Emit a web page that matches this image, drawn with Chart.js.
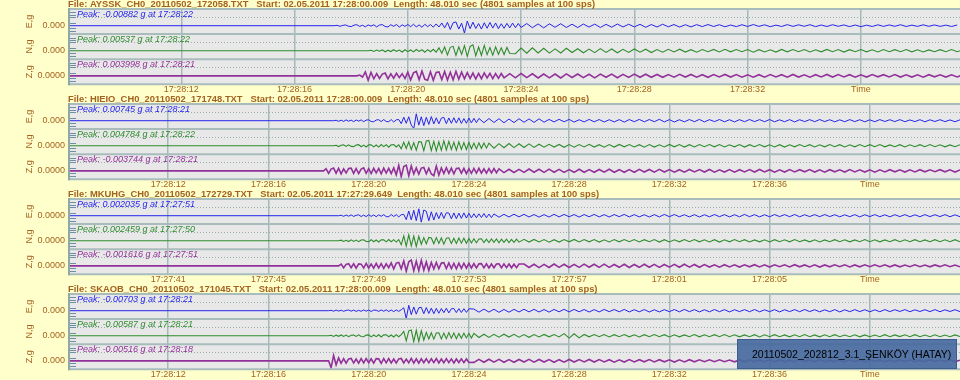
<!DOCTYPE html>
<html>
<head>
<meta charset="utf-8">
<script src="https://cdn.jsdelivr.net/npm/chart.js@4.4.1/dist/chart.umd.min.js"></script>
<style>
  body { margin: 0; background: #ffffcc; width: 960px; height: 380px; overflow: hidden; position: relative; }
  canvas { position: absolute; left: 0; }
  #tag {
    position: absolute; left: 737px; top: 339px; width: 220px; height: 30px;
    background: rgba(70, 106, 160, 0.92); border: 1px solid #3d5d8c; box-sizing: border-box;
    font: 10.5px 'Liberation Sans', Arial, sans-serif; color: #000;
    line-height: 28px; padding-left: 14px; white-space: nowrap;
  }
</style>
</head>
<body>
<canvas id="p0" width="960" height="95" style="top:0px"></canvas>
<canvas id="p1" width="960" height="95" style="top:95px"></canvas>
<canvas id="p2" width="960" height="95" style="top:190px"></canvas>
<canvas id="p3" width="960" height="95" style="top:285px"></canvas>
<div id="tag">20110502_202812_3.1_ŞENKÖY (HATAY)</div>
<script>
// one panel per recording file, three components each (E, N, Z)
var fileHeaders = [
  "File: AYSSK_CH0_20110502_172058.TXT   Start: 02.05.2011 17:28:00.009  Length: 48.010 sec (4801 samples at 100 sps)",
  "File: HIEIO_CH0_20110502_171748.TXT   Start: 02.05.2011 17:28:00.009  Length: 48.010 sec (4801 samples at 100 sps)",
  "File: MKUHG_CH0_20110502_172729.TXT   Start: 02.05.2011 17:27:29.649  Length: 48.010 sec (4801 samples at 100 sps)",
  "File: SKAOB_CH0_20110502_171045.TXT   Start: 02.05.2011 17:28:00.009  Length: 48.010 sec (4801 samples at 100 sps)"
];
var components = ["E,g", "N,g", "Z,g"];
var zeroLabels = [
  ["0.000", "0.000", "0.0000"],
  ["0.000", "0.0000", "0.0000"],
  ["0.0000", "0.0000", "0.0000"],
  ["0.000", "0.000", "0.000"]
];
var peakLabels = [
  ["Peak: -0.00882 g at 17:28:22", "Peak: 0.00537 g at 17:28:22", "Peak: 0.003998 g at 17:28:21"],
  ["Peak: 0.00745 g at 17:28:21", "Peak: 0.004784 g at 17:28:22", "Peak: -0.003744 g at 17:28:21"],
  ["Peak: 0.002035 g at 17:27:51", "Peak: 0.002459 g at 17:27:50", "Peak: -0.001616 g at 17:27:51"],
  ["Peak: -0.00703 g at 17:28:21", "Peak: -0.00587 g at 17:28:21", "Peak: -0.00516 g at 17:28:18"]
];
// seconds from file start
var viewMin = [8, 8, 8, 8];
var viewMax = [39.5, 43.6, 43.6, 43.6];
var tickSeconds = [
  [12, 16, 20, 24, 28, 32, 36],
  [12, 16, 20, 24, 28, 32, 36, 40],
  [12, 16, 20, 24, 28, 32, 36, 40],
  [12, 16, 20, 24, 28, 32, 36, 40]
];
var tickLabels = [
  ["17:28:12", "17:28:16", "17:28:20", "17:28:24", "17:28:28", "17:28:32", "Time"],
  ["17:28:12", "17:28:16", "17:28:20", "17:28:24", "17:28:28", "17:28:32", "17:28:36", "Time"],
  ["17:27:41", "17:27:45", "17:27:49", "17:27:53", "17:27:57", "17:28:01", "17:28:05", "Time"],
  ["17:28:12", "17:28:16", "17:28:20", "17:28:24", "17:28:28", "17:28:32", "17:28:36", "Time"]
];
// onset time of each trace (s); burst sampled every 0.1 s, coda every 0.2 s
var burstStep = 0.1;
var codaStep = 0.2;
var onsets = [
  [17.4, 18.6, 18.2],
  [18.6, 18.6, 18.2],
  [18.8, 18.8, 18.8],
  [18.4, 18.4, 18.4]
];

// trace amplitudes (display units, ~10 per pixel)
var ayssE_burst = [0, 4, -6, 3, 8, -5, -9, 6, 10, -7, 5, -11, 8, -4, 9, -12, 7, 11, -8, -13, 10, -6, 12, -14, 9, -7, 13, -10, 15, -12, 8, -16, 14, -9, 12, -15, 18, -13,
  28, -22, 34, -38, 30, 38, -34, 26, -75, 48,
  -30, 36, -28, 22, -34, 30, -26, 33, -24, 28, -30, 20, -26, 24, -22, 27, -20, 23, -18];
var ayssE_coda = [22, -20, 18, -22, 19, -16, 20, -18, 15, -19, 17, -14, 16, -18, 14, -15, 17, -13, 15, -12, 14, -16, 12, -13, 15, -11, 12, -14, 10, -12,
  11, -9, 12, -8, 10, -11, 7, -9, 10, -8, 12, -7, 9, -10, 6, -8, 11, -7, 9, -6, 10, -9, 7, -8, 10, -6, 8, -9, 7, -10, 6, -8, 9, -7, 8, -6, 10, -8, 6, -7, 9, -6, 8, -7, 6, -8, 7];
var ayssN_burst = [0, 5, -7, 8, -4, 9, -10, 6, -8, 11, -6, 7, -12, 10, -9, 8, -11, 13, -7, 10, -14, 12, -10, 15, -13,
  30, -26, 38, -42, 35, 45, -48, 40, -36, 52, -58, 44, 60, -50, 38, -46, 55, -40, 32, -44, 40, -36, 30, -38, 34, -28];
var ayssN_coda = [-30, 28, -25, 30, -22, 26, -24, 20, -22, 25, -18, 21, -20, 17, -19, 22, -16, 18, -20, 15, -17, 19, -14, 16, -18, 13,
  -14, 15, -12, 16, -13, 11, -15, 12, -10, 14, -12, 15, -11, 13, -10, 12, -14, 11, -12, 10, -13, 14, -11, 12, -10, 13, -12, 10, -11, 14, -10, 12, -13, 11, -9, 12, -11, 10, -12, 13, -10, 11, -9, 12, -11, 10, -12, 9, -10, 11, -9, 12, -10, 11];
var ayssZ_burst = [0, 8, -12, 40, -45, 36, -30,
  22, -26, 18, 28, -30, 20, -24, 26, -18, 22, -28,
  38, -42, 30, 45, -40, 48, -36, -44, 42, -46, 34, 40, -38, 44, -42, 36, -40, 46, -34, 38,
  -30, 32, -26, 28, -32, 24, -29, 30, -22, 26, -28, 22, -25, 24, -20];
var ayssZ_coda = [22, -20, 24, -18, 21, -22, 19, -20, 18, -21, 20, -17, 19, -18, 16, -20, 18, -15, 17, -19, 15, -16, 18, -14, 16, -15,
  14, -15, 13, -14, 15, -12, 14, -13, 12, -15, 13, -11, 14, -12, 13, -14, 11, -13, 12, -14, 13, -11, 12, -13, 14, -12, 11, -13, 12, -11, 14, -12, 13, -11, 12, -13, 11, -12, 13, -10, 12, -11, 13, -12, 10, -12, 11, -13, 12, -10, 11, -12, 10, -11, 12];

var hieiE_burst = [0, 4, -6, 5, -7, 8, -5, 6, -9, 7, -4, 8, -10, 6, 9, -8, -11, 7, 10, -9, 12, -8, -10, 11, -13, 9, 12,
  -30, 36, -26, 40, -45, -80, 70, -45, 40, -50, 35, -38, 42, -32,
  30, -32, 26, 34, -30, 28, -26, 30, -24, 29, -28, 22, -26, 27, -22, 24, -20, 23];
var hieiE_coda = [-20, 22, -18, 20, -21, 17, -19, 20, -16, 18, -17, 19,
  -15, 13, -12, 14, -11, 13, -14, 10, -12, 13, -11, 12, -13, 10, -12, 11, -14, 12, -10, 13, -11, 12, -10, 14, -12, 11, -13, 10, -11, 12, -10, 13, -12, 11, -9, 12, -11, 10, -12, 11, -10, 12, -9, 11, -10, 12, -11, 9, -10, 11, -12, 10, -9, 11, -10, 12, -9, 10, -11, 9, -10, 11, -9, 10, -11, 9, -10, 11, -8, 10, -9, 11, -10, 8, -9, 10, -11, 9, -8, 10, -9, 8, -10, 9];
var hieiN_burst = [0, 5, -8, 6, 9, -7, 10, -6, -9, 8, 11, -10, 7, -12, 9, 10, -11, 8, -13, 12, -9, 11, -14, 10, 13, -12, 9,
  -30, 35, -28, 40, -38, 32, -45, 42, 38, -50, 48, 55, -48, 44, -52, 40, -46, 50, -42, 45, -38, 35, -44, 40, -36, 32, -38, 34, -30, 28, -32, 30, -26, 28, -24, 26];
var hieiN_coda = [-24, 22, -20, 23, -19, 21, -18, 20, -17,
  16, -14, 15, -13, 14, -15, 12, -14, 13, -12, 15, -13, 11, -14, 12, -13, 14, -11, 13, -12, 11, -14, 12, -13, 10, -12, 14, -11, 12, -13, 11, -12, 13, -10, 12, -11, 13, -12, 10, -11, 12, -13, 11, -10, 12, -11, 10, -12, 11, -13, 10, -11, 12, -10, 11, -12, 10, -11, 13, -10, 11, -12, 10, -11, 12, -9, 11, -10, 12, -11, 9, -10, 11, -12, 10, -9, 11, -10, 12, -9, 10, -11, 9, -10, 11];
var hieiZ_burst = [0, 22, -25, 18, 28, -24, 26, -30, 20, -22, 25, 28, -26, 24, -28, 18, 30, -25, 22, -27, 26, -20, 24, -30, 28, -22, 26, -28, 30,
  -40, 55, -60, 45, 58, -52, 50,
  -32, 30, -34, 28, 34, -30, 26, -32,
  -50, 48, -44,
  30, -28, 32, -26, 28, -30, 25, 27, -24, 26, -28, 22, -25, 24, -23, 26, -22, 20, -24, 22, -21, 23, -19, 20];
var hieiZ_coda = [-18, 16, -17, 15, -16, 18, -14, 16, -15, 17, -14, 15, -16, 13, -15, 16, -14, 13, -15, 14, -13, 16, -14, 12, -15, 13, -14, 15, -12, 14, -13, 15, -12, 13, -14, 12, -13, 14, -11, 13, -12, 14, -13, 11, -12, 13, -14, 12, -11, 13, -12, 14, -11, 12, -13, 11, -12, 13, -11, 12, -10, 13, -12, 11, -13, 12, -10, 11, -12, 13, -11, 10, -12, 11, -13, 10, -11, 12, -10, 11, -12, 10, -11, 12, -10, 11, -9, 12, -10, 11, -12, 10];

var mkuhE_burst = [0, 5, -6, 7, -5, 8, -7, 4, 9, -8, 6, -9, 10, -7, 8, -10, 9, -6, 11, -9, -10, 12, -8, 11, -12, 10, 13,
  -40, 48, -42, 55, -50, 70, -65, 58, 45, -52, 40, -44,
  32, -30, 34, -28, 30, 27, -32, 28, -30, 26, -27, 29, -24, 25,
  -22, 20, -21, 19, -18, 22, -20, 17, -19, 18];
var mkuhE_coda = [-15, 14, -13, 15, -12, 14, -13, 12, -14, 11, -13, 14, -12, 13, -11, 12, -14, 12, -11, 13, -12, 11, -13, 12, -10, 13, -12, 11, -12, 10, -13, 11, -12, 13, -10, 12, -11, 10, -12, 11, -13, 10, -11, 12, -10, 11, -12, 10, -11, 13, -10, 11, -12, 10, -11, 12, -9, 11, -10, 12, -11, 10, -9, 11, -10, 12, -9, 10, -11, 9, -10, 11, -12, 10, -9, 11, -10, 9, -11, 10, -9, 11, -10, 9, -10, 11, -9, 10, -9, 11, -10, 9, -10];
var mkuhN_burst = [0, 6, -7, 5, -8, 9, -6, 7, -9, 8, 10, -8, -9, 11, -10, 8, -12, 10, 9, -11, 12, -10, 11, -13, 12,
  -40, 50, -55, 60, -52, 48, -58, 45,
  -35, 32, -30, 34, 28, -30, 32, -27, 29, -34, 26, 30, -28, 25, -27, 28, -24, 26, -25, 23,
  -22, 20, -21, 18, 20, -19, 17, -18, 19, -16, 18, -20, 17, -15, 16, -18, 15, -17, 16, -14];
var mkuhN_coda = [15, -13, 14, -12, 13, -14, 11, -13, 12, -11, 14, -12, 13, -11, 12, -13, 10, -12, 13, -11, 12, -10, 13, -12, 11, -10, 12, -13, 11, -12, 10, -11, 13, -10, 12, -11, 10, -12, 11, -13, 10, -11, 12, -10, 11, -12, 9, -11, 10, -12, 11, -9, 10, -11, 12, -10, 9, -11, 10, -12, 9, -10, 11, -9, 10, -11, 9, -10, 12, -9, 10, -11, 9, -10, 11, -9, 10, -9, 11, -10, 9, -10, 11, -9, 10, -9, 11, -10];
var mkuhZ_burst = [0, 18, -20, 15, 22, -19, 21, -24, 20, 17, -22, 25, -21, 18, -23, 24, -20, 22, -26, 21, -19,
  30, -32, 28, 34, -30,
  50, -55, 42, 58, -52, 48, -50, 56, -45, 40, -48,
  35, -32, 34, -30, 28, 32, -28, 30, -27, 26, -30, 28, -25, 27, -24, 26,
  -22, 23, -21, 20, 22, -20, 21, -22, 19, -20, 18, 21, -19, 20, -18, 19, -20, 17, -18, 19];
var mkuhZ_coda = [18, -17, 16, -18, 15, -17, 18, -15, 16, -17, 15, -16, 17, -14, 16, -15, 17, -16, 14, -15, 16, -17, 14, -15, 16, -14, 15, -16, 14, -13, 15, -14, 16, -13, 14, -15,
  13, -12, 11, -13, 12, -11, 10, -12, 11, -10, 12, -11, 10, -12, 11, -9, 10, -11, 12, -10, 9, -11, 10, -12, 9, -10, 11, -9, 10, -11, 9, -10, 11, -9, 10, -8, 11, -10, 9, -10, 8, -9, 10, -9, 8, -10, 9, -8, 10, -9, 8, -9];

var skaoE_burst = [0, 4, -5, 6, -4, 5, -6, 3, 7, -5, 6, -7, 4, -6, 8, -5, 7, -8, 6, 5, -7, 8, -6, 9, -8, 7, -9, 8, -7, 10,
  30, -80, 55, -40,
  38, -35, 30, 34, -30, 32, -28, 26, -30,
  24, -26, 22, -20, 25, -22, 20, 22, -19, 21, -18, 20, -17, 19];
var skaoE_coda = [17, -15, 16, -14, 15, -16, 13, -15, 14, -13, 15, -12, 14, -13, 12, -14, 13, -11, 14, -12, 13, -11, 12, -13, 11, -12, 13, -10, 12, -11, 13, -12, 10, -11, 12, -13, 10, -12, 11, -10, 12, -11, 13, -10, 11, -12, 10, -11, 12, -10, 11, -12, 10, -9, 11, -10, 12, -11, 9, -10, 11, -12, 10, -9, 11, -10, 12, -9, 10, -11, 9, -10, 11, -12, 9, -10, 11, -9, 10, -11, 9, -10, 11, -9, 10, -8, 11, -10, 9, -8, 10, -9, 11, -10, 9, -8, 10, -9];
var skaoN_burst = [0, 5, -7, 6, -5, 8, -6, 7, -9, 6, 8, -7, 9, -8, -10, 7, 9, -11, 8, -9, 10, -12, 9, 11, -10, 8, -12, 11, -10, 12,
  45, -52, 50, 58, -60, 55, -58, 50, -45,
  35, -32, 30, -34, 28, 30, -32, 27, -29, 32, -25, 28, -30, 24, -26, 27, -22, 25, -23, 24];
var skaoN_coda = [-18, 16, -17, 15, -14, 16, -13, 15, -14, 12, -15, 13, -12, 14, -11, 13, -12,
  22, -24, 20, -21,
  13, -11, 12, -10, 13, -12, 11, -10, 12, -11, 10, -12, 11, -9, 12, -10, 11, -12, 10, -11, 9, -10, 12, -11, 10, -9, 11, -10, 12, -9, 10, -11, 9, -10, 11, -12, 10, -9, 11, -10, 9, -11, 10, -9, 12, -10, 9, -11, 10, -9, 11, -10, 8, -9, 10, -11, 9, -10, 8, -9, 11, -10, 9, -8, 10, -9, 11, -10, 8, -9, 10, -9, 8, -10, 9, -8];
var skaoZ_burst = [0, -70, 55, -40,
  30, -25, 22, -24, 20, 25, -22, 18, -24, 22, -20, 24, -19, 21, -24, 22, 20, -25, 22, -20, 23, -21, 19, -22, 20, 24, -21, 18, -20, 25, -22, 21, -24, 20, -19, 22, -20, 21, -18, 23, -21, 19, -20, 22, -18, 20, -21, 19, -17, 20, -18, 19, -17];
var skaoZ_coda = [-16, 15, -14, 16, -13, 15, -14, 13, -15, 14, -12, 15, -13, 14, -12, 13, -15, 12, -13, 14, -12, 13, -11, 14, -12, 13, -11, 12, -13, 11, -12, 13, -11, 12, -10, 13, -11, 12, -10, 11, -12, 10, -11, 12, -10,
  10, -9, 11, -8, 10, -9, 8, -10, 9, -8, 10, -9, 8, -9, 10, -8, 9, -10, 8, -9, 10, -7, 9, -8, 10, -9, 7, -8, 9, -10, 8, -7, 9, -8, 10, -7, 8, -9, 7, -8, 9, -7, 8, -9, 7, -8, 9, -7, 8, -7, 9, -8, 7];

var bursts = [
  [ayssE_burst, ayssN_burst, ayssZ_burst],
  [hieiE_burst, hieiN_burst, hieiZ_burst],
  [mkuhE_burst, mkuhN_burst, mkuhZ_burst],
  [skaoE_burst, skaoN_burst, skaoZ_burst]
];
var codas = [
  [ayssE_coda, ayssN_coda, ayssZ_coda],
  [hieiE_coda, hieiN_coda, hieiZ_coda],
  [mkuhE_coda, mkuhN_coda, mkuhZ_coda],
  [skaoE_coda, skaoN_coda, skaoZ_coda]
];

var traceColors = ["#2424ee", "#2e8c2e", "#93319a"];
var traceWidths = [1, 1.1, 1.6];
var textBrown = "#a4621f";
var fontFam = "'Liberation Sans', Arial, sans-serif";
var rowIds = ["yE", "yN", "yZ"];

function toPoints(t0, burst, coda) {
  var pts = [{ x: 0, y: 0 }];
  burst.forEach(function (v, i) {
    pts.push({ x: t0 + i * burstStep, y: v });
  });
  var tb = t0 + (burst.length - 1) * burstStep;
  coda.forEach(function (v, j) {
    pts.push({ x: tb + (j + 1) * codaStep, y: v });
  });
  return pts;
}

var seismoDeco = {
  id: 'seismoDeco',
  beforeDraw: function (chart) {
    var ctx = chart.ctx, a = chart.chartArea;
    ctx.save();
    ctx.fillStyle = '#e8e8e8';
    ctx.fillRect(a.left, a.top, a.right - a.left, a.bottom - a.top);
    ctx.restore();
  },
  afterDraw: function (chart) {
    var o = chart.options.plugins.seismoDeco;
    var ctx = chart.ctx, a = chart.chartArea;
    ctx.save();
    // row borders
    ctx.strokeStyle = '#a9bcbc';
    ctx.lineWidth = 2;
    rowIds.forEach(function (id) {
      var s = chart.scales[id];
      ctx.beginPath();
      ctx.moveTo(a.left, s.top);
      ctx.lineTo(a.right, s.top);
      ctx.stroke();
    });
    ctx.beginPath();
    ctx.moveTo(a.left, a.bottom);
    ctx.lineTo(a.right, a.bottom);
    ctx.stroke();
    ctx.strokeStyle = '#8ea8a8';
    ctx.beginPath();
    ctx.moveTo(a.left + 1, a.top - 1);
    ctx.lineTo(a.left + 1, a.bottom + 1);
    ctx.stroke();
    // small level marks at the left edge
    ctx.strokeStyle = '#6f8fa0';
    ctx.lineWidth = 1;
    rowIds.forEach(function (id) {
      var s = chart.scales[id];
      [135, 110, 85, 30, -25, -50].forEach(function (v) {
        var y = Math.round(s.getPixelForValue(v)) + 0.5;
        ctx.beginPath();
        ctx.moveTo(a.left + 2, y);
        ctx.lineTo(a.left + 8, y);
        ctx.stroke();
      });
    });
    // peak labels
    ctx.font = 'italic 9px ' + fontFam;
    ctx.textBaseline = 'middle';
    ctx.textAlign = 'left';
    rowIds.forEach(function (id, r) {
      var s = chart.scales[id];
      ctx.fillStyle = traceColors[r];
      ctx.fillText(o.peaks[r], a.left + 9, s.top + 5);
    });
    // file header
    ctx.font = 'bold 9.4px ' + fontFam;
    ctx.fillStyle = textBrown;
    ctx.fillText(o.header, a.left, 4);
    ctx.restore();
  }
};

function yScale(p, r) {
  return {
    type: 'linear',
    position: 'left',
    stack: 'rows',
    stackWeight: 1,
    min: -85,
    max: 170,
    afterBuildTicks: function (s) { s.ticks = [{ value: 0 }, { value: 85 }]; },
    afterFit: function (s) { s.width = 44; },
    grid: {
      drawTicks: false,
      lineWidth: 1,
      color: function (c) { return c.tick && c.tick.value === 85 ? '#9aadad' : 'rgba(0,0,0,0)'; }
    },
    border: { display: false, dash: [1, 2] },
    ticks: {
      padding: 3,
      color: textBrown,
      font: { size: 9, family: fontFam },
      callback: function (v) { return v === 0 ? zeroLabels[p][r] : ''; }
    },
    title: {
      display: true,
      text: components[r],
      color: textBrown,
      font: { size: 9, family: fontFam },
      padding: { top: 0, bottom: 0 }
    }
  };
}

for (var p = 0; p < 4; p++) {
  (function (p) {
    var datasets = bursts[p].map(function (vals, r) {
      return {
        data: toPoints(onsets[p][r], vals, codas[p][r]),
        yAxisID: rowIds[r],
        borderColor: traceColors[r],
        borderWidth: traceWidths[r],
        pointRadius: 0,
        tension: 0,
        fill: false
      };
    });
    var scales = {
      x: {
        type: 'linear',
        min: viewMin[p],
        max: viewMax[p],
        afterBuildTicks: function (s) { s.ticks = tickSeconds[p].map(function (v) { return { value: v }; }); },
        grid: { drawTicks: false, color: '#a6b9b9', lineWidth: 1.5 },
        border: { display: false },
        ticks: {
          padding: 0,
          maxRotation: 0,
          autoSkip: false,
          color: textBrown,
          font: { size: 9, family: fontFam },
          callback: function (v, i) { return tickLabels[p][i]; }
        }
      }
    };
    // left stacked axes: the last one defined sits on top
    scales.yZ = yScale(p, 2);
    scales.yN = yScale(p, 1);
    scales.yE = yScale(p, 0);

    new Chart(document.getElementById('p' + p), {
      type: 'line',
      data: { datasets: datasets },
      options: {
        responsive: false,
        animation: false,
        layout: { padding: { left: 24, top: 9, right: 0, bottom: 0 } },
        scales: scales,
        plugins: {
          legend: { display: false },
          tooltip: { enabled: false },
          seismoDeco: { header: fileHeaders[p], peaks: peakLabels[p] }
        }
      },
      plugins: [seismoDeco]
    });
  })(p);
}
</script>
</body>
</html>
